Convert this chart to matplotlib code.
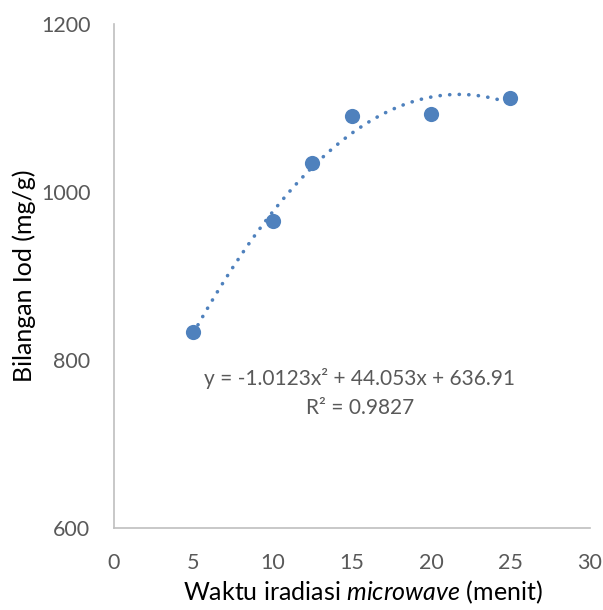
import numpy as np
import matplotlib
matplotlib.use('Agg')
import matplotlib.pyplot as plt

plt.rcParams['font.family'] = ['Lato', 'DejaVu Sans']
plt.rcParams['mathtext.fontset'] = 'custom'
plt.rcParams['mathtext.rm'] = 'Lato'
plt.rcParams['mathtext.it'] = 'Lato:italic'

# data
waktu = [5, 10, 12.5, 15, 20, 25]
bilangan_iod = [833, 965, 1034, 1090, 1093, 1112]
# polynomial trendline coefficients (from the chart's equation)
trend_coef = [-1.0123, 44.053, 636.91]
x_ticks = [0, 5, 10, 15, 20, 25, 30]
y_ticks = [600, 800, 1000, 1200]

blue = '#4F81BD'
grey = '#595959'

fig = plt.figure(figsize=(6.03, 6.10), dpi=100)
ax = fig.add_axes([0.189, 0.1344, 0.789, 0.8263])

xt = np.linspace(min(waktu), max(waktu), 200)
ax.plot(xt, np.polyval(trend_coef, xt), color=blue, lw=2.6,
        linestyle=(0, (0.05, 2.6)), dash_capstyle='round', zorder=2)
ax.scatter(waktu, bilangan_iod, s=120, color=blue, zorder=3, linewidths=0)

ax.text(15.5, 761, 'y = -1.0123x² + 44.053x + 636.91\nR² = 0.9827',
        ha='center', va='center', fontsize=15, color=grey, linespacing=1.55)

ax.set_xlim(0, 30)
ax.set_ylim(600, 1200)
ax.set_xticks(x_ticks)
ax.set_yticks(y_ticks)
ax.tick_params(length=0, labelsize=15.5, colors=grey)
ax.tick_params(axis='y', pad=17)
ax.tick_params(axis='x', pad=18)

for s in ['top', 'right']:
    ax.spines[s].set_visible(False)
for s in ['left', 'bottom']:
    ax.spines[s].set_color('#BFBFBF')
    ax.spines[s].set_linewidth(1.2)

ax.set_xlabel('Waktu iradiasi $\\it{microwave}$ (menit)', fontsize=18, color='black')
ax.set_ylabel('Bilangan Iod (mg/g)', fontsize=18, color='black')
ax.xaxis.set_label_coords(0.523, -0.1)
ax.yaxis.set_label_coords(-0.163, 0.5)

fig.savefig('out.png', dpi=100)
